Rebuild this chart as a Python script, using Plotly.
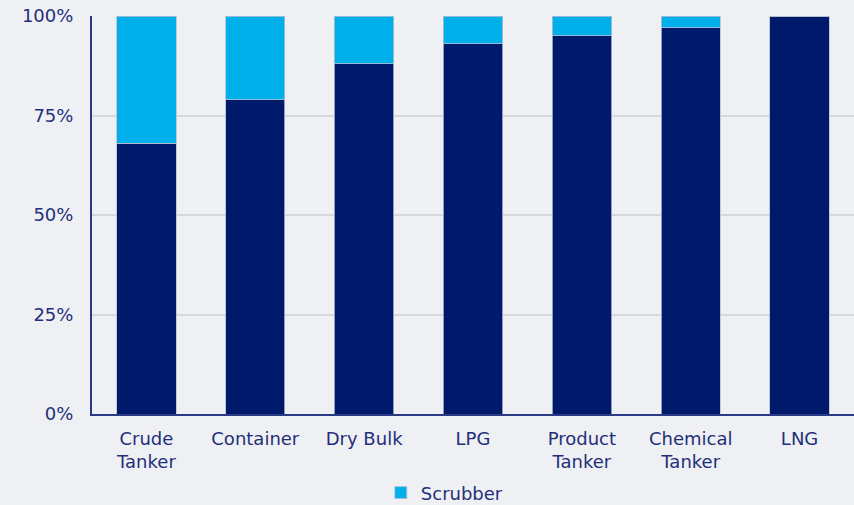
import plotly.graph_objects as go

# Share of fleet capacity by vessel type (%)
categories = ["Crude<br>Tanker", "Container", "Dry Bulk", "LPG", "Product<br>Tanker",
              "Chemical<br>Tanker", "LNG"]
compliant = [68, 79, 88, 93, 95, 97, 100]
scrubber = [32, 21, 12, 7, 5, 3, 0]

NAVY = "#001A6B"
CYAN = "#00B0EB"
TEXT = "#1F2F7A"
BG = "#EEF0F3"

fig = go.Figure()
fig.add_trace(go.Bar(
    x=categories, y=compliant, name="Compliant fuel", showlegend=False,
    marker=dict(color=NAVY, line=dict(color="#B9BED0", width=0.8)),
))
fig.add_trace(go.Bar(
    x=categories, y=scrubber, name="Scrubber",
    marker=dict(color=CYAN, line=dict(color="#B9BED0", width=0.8)),
))

fig.update_layout(
    barmode="stack",
    bargap=0.455,
    width=854, height=505,
    margin=dict(l=92, r=0, t=16, b=91, autoexpand=False),
    paper_bgcolor=BG, plot_bgcolor=BG,
    font=dict(family="DejaVu Sans", color=TEXT, size=18),
    showlegend=True,
    legend=dict(orientation="h", x=0.463, xanchor="center",
                yref="container", y=0.024, yanchor="middle",
                font=dict(size=18, color=TEXT), bgcolor="rgba(0,0,0,0)",
                itemwidth=30),
)
fig.update_yaxes(
    range=[0, 100], tickvals=[0, 25, 50, 75, 100],
    ticktext=["0%", "25%", "50%", "75%", "100%"],
    tickfont=dict(size=18, color=TEXT),
    showgrid=True, gridcolor="#D6D8DC", gridwidth=1.5,
    showline=True, linecolor="#2A3A86", linewidth=2,
    zeroline=False, ticks="", ticklabelstandoff=13, automargin=False,
)
fig.update_xaxes(
    tickfont=dict(size=18, color=TEXT),
    showline=True, linecolor="#2A3A86", linewidth=2,
    ticks="", ticklabelstandoff=7, automargin=False,
)

fig.write_html("out.html")
